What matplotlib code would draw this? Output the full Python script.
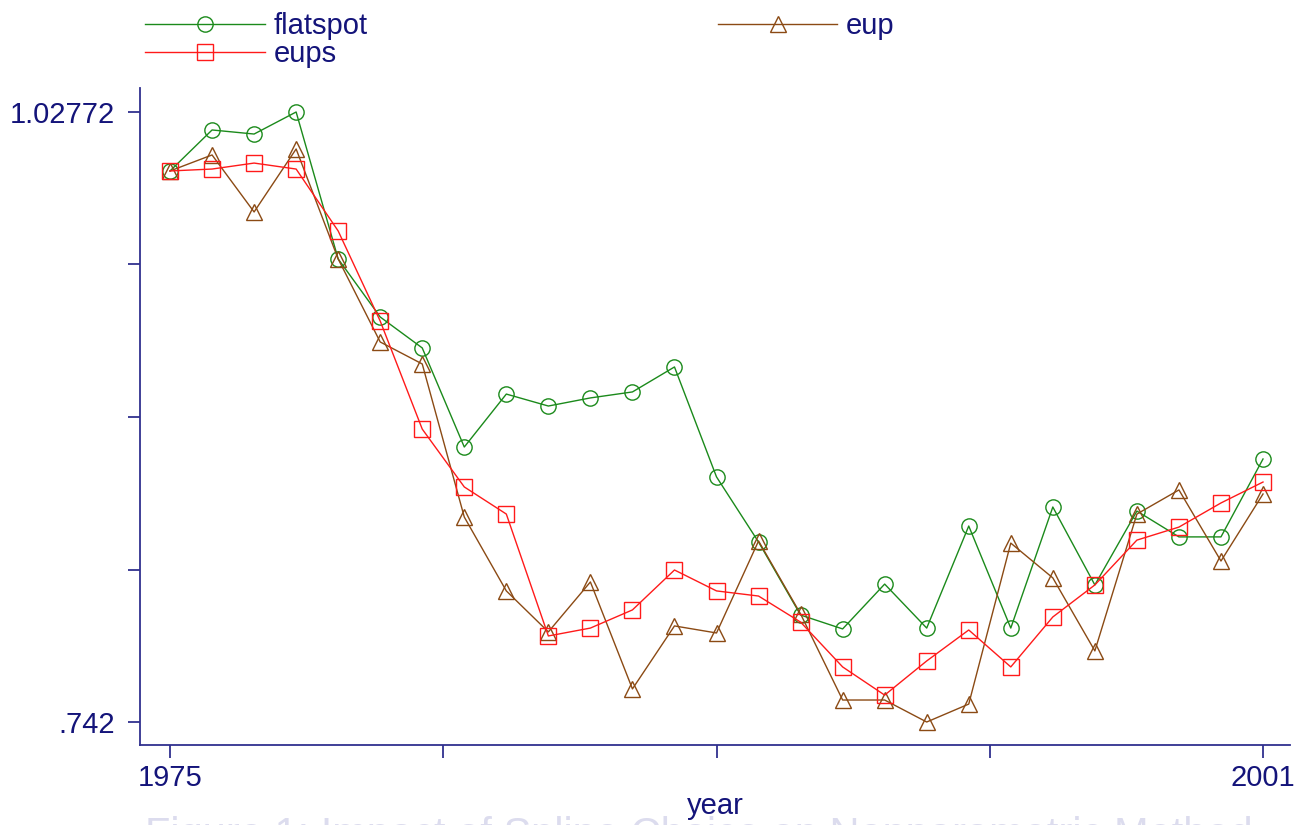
import numpy as np
import matplotlib.pyplot as plt
from matplotlib.lines import Line2D

plt.rcParams['font.family'] = ['Liberation Sans', 'DejaVu Sans']

years = np.arange(1975, 2002)

flatspot = [1.0001, 1.0193, 1.0174, 1.02772, 0.9589, 0.9317, 0.9172, 0.8708, 0.8956,
            0.8900, 0.8938, 0.8966, 0.9083, 0.8568, 0.8263, 0.7921, 0.7856, 0.8066,
            0.7860, 0.8338, 0.7860, 0.8427, 0.8062, 0.8408, 0.8287, 0.8287, 0.8652]
eup = [1.0001, 1.0076, 0.9809, 1.0104, 0.9589, 0.9200, 0.9097, 0.8380, 0.8034,
       0.7842, 0.8076, 0.7575, 0.7870, 0.7837, 0.8268, 0.7926, 0.7523, 0.7523,
       0.7420, 0.7504, 0.8258, 0.8095, 0.7753, 0.8394, 0.8507, 0.8174, 0.8488]
eups = [1.0001, 1.0010, 1.0038, 1.0010, 0.9720, 0.9298, 0.8792, 0.8521, 0.8394,
        0.7823, 0.7860, 0.7945, 0.8132, 0.8034, 0.8010, 0.7888, 0.7678, 0.7546,
        0.7706, 0.7851, 0.7678, 0.7912, 0.8062, 0.8272, 0.8333, 0.8446, 0.8544]

navy = '#14147a'
axcol = '#30308f'
green = '#1b8a1b'
brown = '#8b4a14'
red = '#ff1a1a'

fig = plt.figure(figsize=(13.06, 8.25), dpi=100)
ax = fig.add_axes([140 / 1306, 1 - 745 / 825, 1150 / 1306, 657 / 825])

lw = 1.0
styles = {'flatspot': dict(color=green, marker='o', ms=11),
          'eup': dict(color=brown, marker='^', ms=12),
          'eups': dict(color=red, marker='s', ms=11)}

ax.plot(years, flatspot, lw=lw, mfc='none', mew=1.0, **styles['flatspot'])
ax.plot(years, eup, lw=lw, mfc='none', mew=1.0, **styles['eup'])
ax.plot(years, eups, lw=lw, mfc='none', mew=1.0, **styles['eups'])

ymin, ymax = 0.742, 1.02772
ax.set_xlim(1974.286, 2001.642)
ax.set_ylim(0.73123, 1.03896)

ax.set_xticks(np.linspace(1975, 2001, 5))
ax.set_xticklabels(['1975', '', '', '', '2001'])
ax.set_yticks(np.linspace(ymin, ymax, 5))
ax.set_yticklabels(['.742', '', '', '', '1.02772'])

for s in ['top', 'right']:
    ax.spines[s].set_visible(False)
for s in ['left', 'bottom']:
    ax.spines[s].set_color(axcol)
    ax.spines[s].set_linewidth(1.3)

ax.tick_params(axis='both', direction='out', length=9, width=1.3, color=axcol,
               labelcolor=navy, labelsize=21, pad=5)
ax.tick_params(axis='y', pad=9)
ax.set_xlabel('year', fontsize=21, color=navy, labelpad=0)

# legend: flatspot/eups in the first column, eup in the second
names = ['flatspot', 'eups', 'eup']
handles = [Line2D([], [], lw=lw, mfc='none', **styles[n]) for n in names]
leg = fig.legend(handles, names, ncol=2, loc='upper left',
                 bbox_to_anchor=(125 / 1306, 1 + 8 / 825), frameon=False,
                 fontsize=21, handlelength=4.1, handletextpad=0.3, labelspacing=0.0,
                 columnspacing=12.0, borderpad=0.2)
for t in leg.get_texts():
    t.set_color(navy)

fig.text(145 / 1306, 1 - 816 / 825,
         'Figure 1: Impact of Spline Choice on Nonparametric Method',
         fontsize=30, color='#dcdcee', ha='left', va='top')

fig.savefig('out.png', dpi=100)
